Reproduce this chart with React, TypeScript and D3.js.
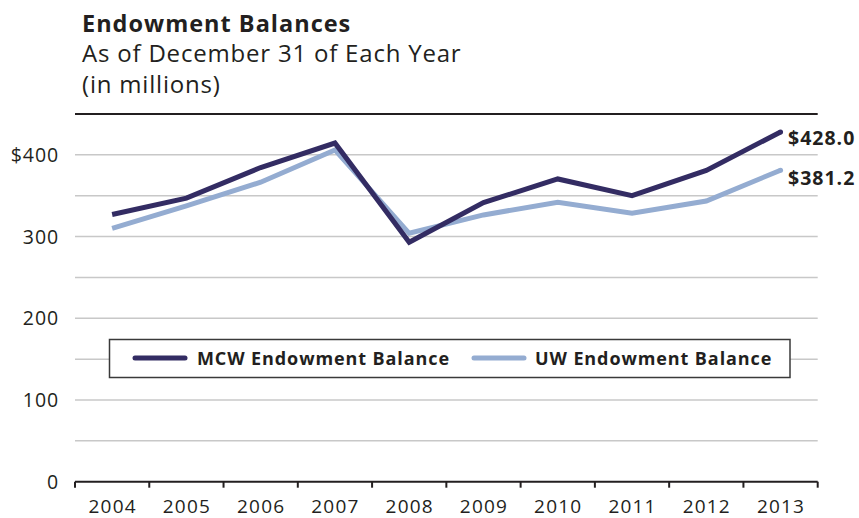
import React from "react";
import * as d3 from "d3";

const years = ["2004", "2005", "2006", "2007", "2008", "2009", "2010", "2011", "2012", "2013"];
const mcwValues = [327, 347, 384.5, 414.5, 293, 341.5, 370.5, 350, 381, 428.0];
const uwValues = [310, 337.5, 366.5, 406, 304, 326.5, 342, 328.5, 343.5, 381.2];
const yTicks = [0, 100, 200, 300, 400];
const gridValues = [50, 100, 150, 200, 250, 300, 350, 400];
const seriesNames = ["MCW Endowment Balance", "UW Endowment Balance"];
const endLabels = ["$428.0", "$381.2"];

const W = 859;
const H = 518;
const left = 75;
const right = 817.7;
const top = 114;
const bottom = 481.7;
const MCW = "#332c63";
const UW = "#94acd1";
const FONT = "'Open Sans', sans-serif";

export default function App() {
  const x = d3.scaleBand<string>().domain(years).range([left, right]).padding(0);
  const y = d3.scaleLinear().domain([0, 450]).range([bottom, top]);
  const cx = (d: string) => (x(d) as number) + x.bandwidth() / 2;
  const line = d3
    .line<number>()
    .x((_, i) => cx(years[i]))
    .y((v) => y(v));
  const ticksX = [...years.map((d) => x(d) as number), right];

  return (
    <svg
      width={W}
      height={H}
      style={{ position: "absolute", left: 0, top: 0, fontFamily: FONT }}
    >
      <rect width={W} height={H} fill="#fff" />
      <text x={82} y={31.5} fontSize={23.5} fontWeight={700} letterSpacing={1} fill="#231f20">
        Endowment Balances
      </text>
      <text x={82} y={62} fontSize={24} letterSpacing={0.8} fill="#231f20">
        As of December 31 of Each Year
      </text>
      <text x={82} y={92.5} fontSize={24} letterSpacing={0.8} fill="#231f20">
        (in millions)
      </text>

      {gridValues.map((v) => (
        <line key={v} x1={left} x2={right} y1={y(v)} y2={y(v)} stroke="#c8c8c8" strokeWidth={1.5} />
      ))}
      <line x1={left} x2={right} y1={y(450)} y2={y(450)} stroke="#231f20" strokeWidth={2} />

      {yTicks.map((v) => (
        <text
          key={v}
          x={59}
          y={y(v)}
          dy="0.36em"
          textAnchor="end"
          fontSize={19.5}
          letterSpacing={0.9}
          fill="#231f20"
        >
          {v === 400 ? "$400" : v}
        </text>
      ))}

      <line x1={left} x2={right} y1={bottom} y2={bottom} stroke="#231f20" strokeWidth={2} />
      {ticksX.map((t, i) => (
        <line key={i} x1={t} x2={t} y1={bottom} y2={bottom + 6} stroke="#231f20" strokeWidth={2} />
      ))}
      {years.map((d) => (
        <text
          key={d}
          x={cx(d) + 0.5}
          y={512.5}
          textAnchor="middle"
          fontSize={19}
          letterSpacing={1.2}
          fill="#231f20"
        >
          {d}
        </text>
      ))}

      <path d={line(uwValues) || ""} fill="none" stroke={UW} strokeWidth={5} strokeLinejoin="miter" />
      <path d={line(mcwValues) || ""} fill="none" stroke={MCW} strokeWidth={5} strokeLinejoin="miter" />
      <circle cx={cx(years[9])} cy={y(mcwValues[9])} r={2.5} fill={MCW} />
      <circle cx={cx(years[9])} cy={y(uwValues[9])} r={2.5} fill={UW} />

      <text x={788} y={y(mcwValues[9]) + 13} fontSize={19.5} fontWeight={700} letterSpacing={1} fill="#231f20">
        {endLabels[0]}
      </text>
      <text x={788} y={y(uwValues[9]) + 15} fontSize={19.5} fontWeight={700} letterSpacing={1} fill="#231f20">
        {endLabels[1]}
      </text>

      <rect x={109.5} y={339.5} width={680.5} height={38} fill="#fff" stroke="#3a3a3a" strokeWidth={1.5} />
      <line x1={135} x2={185} y1={358} y2={358} stroke={MCW} strokeWidth={5} strokeLinecap="round" />
      <text x={197} y={364.5} fontSize={18} fontWeight={700} letterSpacing={0.9} fill="#231f20">
        {seriesNames[0]}
      </text>
      <line x1={474} x2={524} y1={358} y2={358} stroke={UW} strokeWidth={5} strokeLinecap="round" />
      <text x={535} y={364.5} fontSize={18} fontWeight={700} letterSpacing={0.9} fill="#231f20">
        {seriesNames[1]}
      </text>
    </svg>
  );
}
